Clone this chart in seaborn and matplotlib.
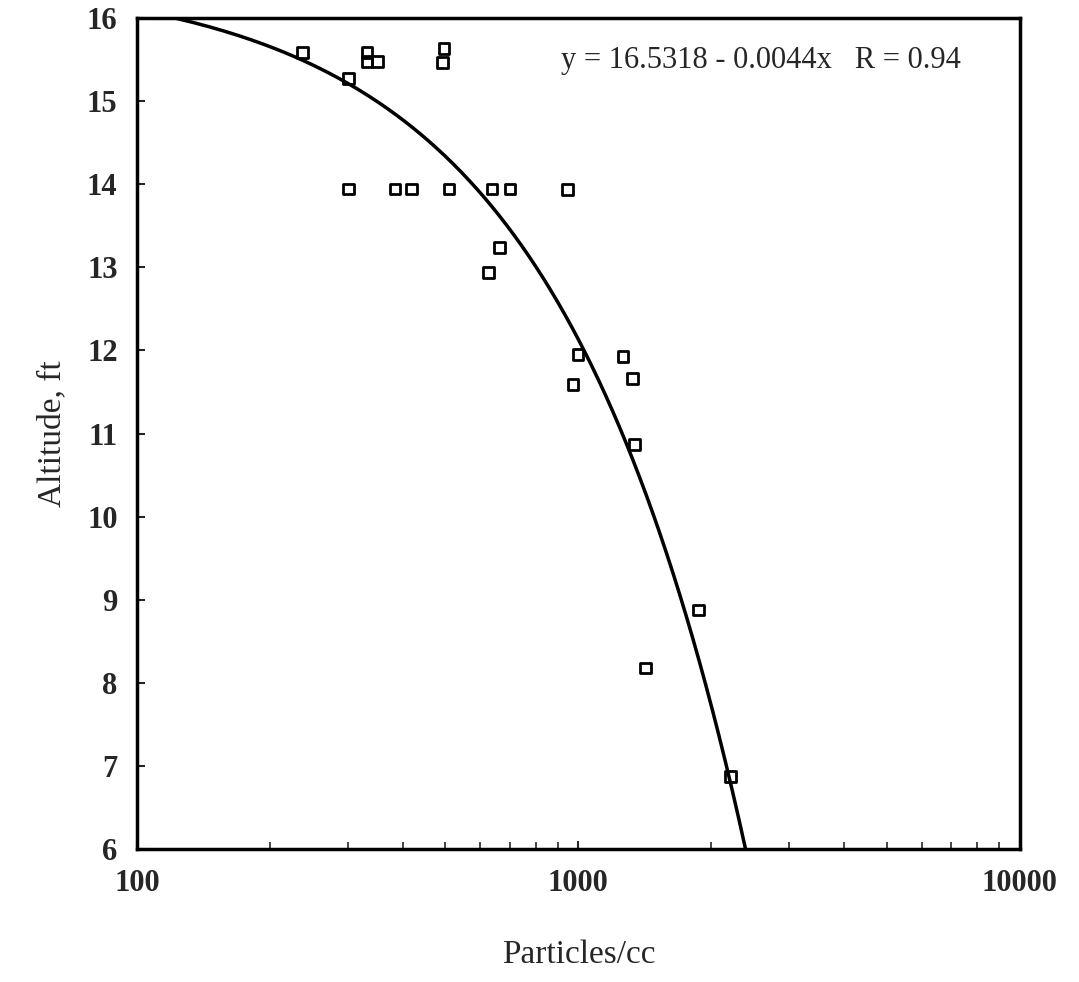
import numpy as np
import pandas as pd
import matplotlib
matplotlib.use("Agg")
import matplotlib.pyplot as plt
import seaborn as sns

particles = [237, 301, 332, 332, 350, 493, 496,
             301, 384, 418, 509, 637, 700, 946,
             664, 627,
             998, 972, 1262, 1328, 1342,
             1875, 1422, 2213]
altitude = [15.58, 15.27, 15.58, 15.47, 15.47, 15.46, 15.63,
            13.94, 13.94, 13.94, 13.94, 13.94, 13.94, 13.93,
            13.24, 12.94,
            11.95, 11.59, 11.93, 11.66, 10.87,
            8.88, 8.18, 6.88]

# fit printed on the chart
intercept = 16.5318
slope = -0.0044
r_value = 0.94

data = pd.DataFrame({"Particles": particles, "Altitude": altitude})

fit_x = np.linspace(100, 2400, 400)
fit = pd.DataFrame({"Particles": fit_x, "Altitude": intercept + slope * fit_x})

sns.set_style("ticks")
plt.rcParams["font.family"] = ["Liberation Serif", "DejaVu Serif"]

fig = plt.figure(figsize=(10.79, 9.82), dpi=100)
ax = fig.add_axes([0.127, 0.135, 0.818, 0.847])

sns.lineplot(x="Particles", y="Altitude", data=fit, ax=ax, color="black", linewidth=2.5)
sns.scatterplot(x="Particles", y="Altitude", data=data, ax=ax, marker="s", s=60,
                facecolor="none", edgecolor="black", linewidth=2)

ax.set_xscale("log")
ax.set_xlim(100, 10000)
ax.set_ylim(6, 16)
ax.set_yticks(range(6, 17))
ax.set_xticks([100, 1000, 10000])
ax.set_xticklabels(["100", "1000", "10000"])

ax.tick_params(axis="both", which="major", direction="in", length=6, width=1.5,
               labelsize=22, pad=14)
ax.tick_params(axis="x", which="minor", direction="in", length=5, width=1.2)
for lab in ax.get_yticklabels() + ax.get_xticklabels():
    lab.set_fontweight("bold")

for side in ax.spines.values():
    side.set_linewidth(2.5)
    side.set_color("black")

ax.set_xlabel("Particles/cc", fontsize=24, labelpad=30)
ax.set_ylabel("Altitude, ft", fontsize=24, labelpad=14)

ax.text(0.48, 0.94, f"y = {intercept} - {abs(slope)}x   R = {r_value}",
        transform=ax.transAxes, fontsize=22)

fig.savefig("out.png", dpi=100)
